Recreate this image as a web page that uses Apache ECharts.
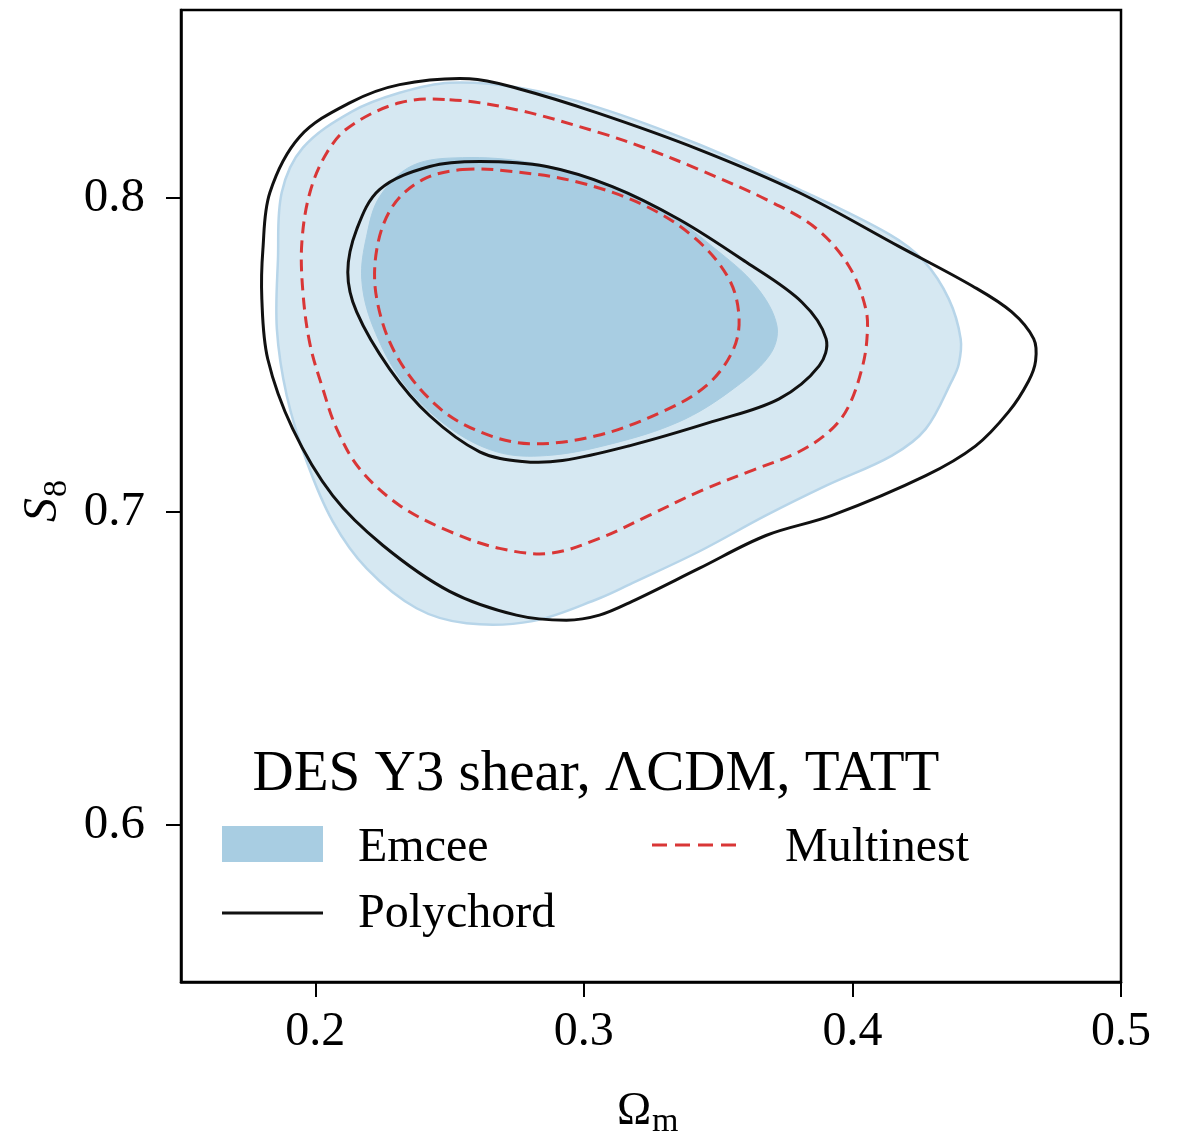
<!DOCTYPE html>
<html><head><meta charset="utf-8">
<script src="https://cdn.jsdelivr.net/npm/echarts@6/dist/echarts.min.js"></script>
<style>html,body{margin:0;padding:0;background:#fff}#c{width:1178px;height:1137px}</style>
</head><body><div id="c"></div>
<script>
// tick labels
const xTicks = [0.2, 0.3, 0.4, 0.5];
const yTicks = [0.6, 0.7, 0.8];
// contour outlines, [Omega_m, S8]
const emceeOuter = [[0.2500,0.8368],[0.2760,0.8352],[0.3058,0.8288],[0.3429,0.8171],[0.3801,0.8028],[0.4136,0.7885],[0.4266,0.7799],[0.4359,0.7678],[0.4403,0.7551],[0.4396,0.7471],[0.4370,0.7417],[0.4273,0.7264],[0.4147,0.7179],[0.3902,0.7083],[0.3678,0.6988],[0.3429,0.6873],[0.3180,0.6772],[0.3058,0.6724],[0.2809,0.6651],[0.2563,0.6644],[0.2377,0.6692],[0.2191,0.6819],[0.2065,0.6969],[0.1968,0.7160],[0.1894,0.7369],[0.1857,0.7582],[0.1861,0.7805],[0.1875,0.8018],[0.1954,0.8161],[0.2136,0.8276],[0.2314,0.8336]];
const emceeInner = [[0.2548,0.8129],[0.2797,0.8114],[0.3046,0.8059],[0.3292,0.7964],[0.3478,0.7846],[0.3641,0.7719],[0.3719,0.7592],[0.3690,0.7497],[0.3541,0.7382],[0.3355,0.7287],[0.3106,0.7217],[0.2861,0.7179],[0.2675,0.7191],[0.2489,0.7274],[0.2325,0.7414],[0.2214,0.7592],[0.2173,0.7741],[0.2191,0.7878],[0.2240,0.8005],[0.2362,0.8104]];
const polychordOuter = [[0.2574,0.8381],[0.2757,0.8349],[0.3050,0.8272],[0.3429,0.8155],[0.3801,0.8018],[0.4173,0.7846],[0.4448,0.7719],[0.4593,0.7637],[0.4675,0.7551],[0.4682,0.7481],[0.4656,0.7417],[0.4582,0.7319],[0.4459,0.7210],[0.4273,0.7115],[0.3924,0.6988],[0.3678,0.6924],[0.3429,0.6819],[0.3180,0.6714],[0.3058,0.6670],[0.2935,0.6654],[0.2749,0.6670],[0.2500,0.6746],[0.2251,0.6893],[0.2065,0.7051],[0.1916,0.7264],[0.1823,0.7487],[0.1801,0.7678],[0.1805,0.7837],[0.1831,0.8018],[0.1942,0.8196],[0.2128,0.8304],[0.2314,0.8362]];
const polychordInner = [[0.2612,0.8117],[0.2861,0.8101],[0.3106,0.8037],[0.3355,0.7932],[0.3604,0.7796],[0.3812,0.7668],[0.3902,0.7551],[0.3876,0.7465],[0.3727,0.7360],[0.3478,0.7287],[0.3169,0.7210],[0.2920,0.7163],[0.2771,0.7160],[0.2612,0.7191],[0.2426,0.7306],[0.2277,0.7455],[0.2154,0.7637],[0.2121,0.7764],[0.2154,0.7900],[0.2240,0.8028],[0.2426,0.8101]];
const multinestOuter = [[0.2500,0.8314],[0.2749,0.8282],[0.3058,0.8209],[0.3243,0.8155],[0.3429,0.8091],[0.3678,0.7996],[0.3864,0.7904],[0.3987,0.7783],[0.4050,0.7646],[0.4054,0.7551],[0.4035,0.7455],[0.3987,0.7338],[0.3924,0.7264],[0.3801,0.7191],[0.3615,0.7128],[0.3429,0.7064],[0.3243,0.6988],[0.3058,0.6915],[0.2872,0.6867],[0.2686,0.6883],[0.2500,0.6937],[0.2314,0.7020],[0.2165,0.7137],[0.2080,0.7264],[0.2028,0.7392],[0.1980,0.7535],[0.1954,0.7700],[0.1950,0.7859],[0.1980,0.8018],[0.2043,0.8145],[0.2128,0.8228],[0.2314,0.8304]];
const multinestInner = [[0.2548,0.8091],[0.2734,0.8085],[0.2983,0.8050],[0.3232,0.7974],[0.3418,0.7869],[0.3541,0.7741],[0.3578,0.7614],[0.3552,0.7509],[0.3455,0.7401],[0.3292,0.7319],[0.3046,0.7242],[0.2797,0.7217],[0.2612,0.7255],[0.2452,0.7338],[0.2303,0.7497],[0.2229,0.7678],[0.2229,0.7837],[0.2288,0.7974],[0.2400,0.8059]];

const FONT = '"Liberation Serif", "DejaVu Serif", serif';
const C_LIGHT = '#d6e8f2', C_DARK = '#a8cde2', C_EDGE = '#b7d5e9', C_RED = '#d93636', C_BLACK = '#111';

function contour(name, pts, style, z) {
  return {
    type: 'custom', name: name, z: z, silent: true, clip: false,
    coordinateSystem: 'cartesian2d',
    data: pts, encode: { x: 0, y: 1 },
    renderItem: function (params, api) {
      if (params.dataIndex !== 0) return null;
      const p = pts.map(function (d) { return api.coord(d); });
      return { type: 'polygon', shape: { points: p, smooth: 0.35 }, style: style };
    }
  };
}

const chart = echarts.init(document.getElementById('c'), null, { renderer: 'canvas' });
chart.setOption({
  animation: false,
  backgroundColor: '#fff',
  grid: { left: 181, right: 57, top: 10, bottom: 155, show: true, borderColor: '#000', borderWidth: 2.5, backgroundColor: 'transparent' },
  xAxis: {
    type: 'value', min: 0.15, max: 0.5,
    axisLine: { show: true, onZero: false, lineStyle: { color: '#000', width: 2.5 } },
    axisTick: { show: true, customValues: xTicks, length: 15, lineStyle: { color: '#000', width: 2 } },
    axisLabel: { customValues: xTicks, formatter: function (v) { return v.toFixed(1); }, margin: 26, fontSize: 48, fontFamily: FONT, color: '#000' },
    splitLine: { show: false }
  },
  yAxis: {
    type: 'value', min: 0.55, max: 0.86,
    axisLine: { show: true, onZero: false, lineStyle: { color: '#000', width: 2.5 } },
    axisTick: { show: true, customValues: yTicks, length: 15, lineStyle: { color: '#000', width: 2 } },
    axisLabel: { customValues: yTicks, formatter: function (v) { return v.toFixed(1); }, margin: 36, fontSize: 49, fontFamily: FONT, color: '#000' },
    splitLine: { show: false }
  },
  series: [
    contour('Emcee 95%', emceeOuter, { fill: C_LIGHT, stroke: C_EDGE, lineWidth: 2.5 }, 1),
    contour('Emcee 68%', emceeInner, { fill: C_DARK, stroke: C_DARK, lineWidth: 1 }, 2),
    contour('Multinest 95%', multinestOuter, { fill: null, stroke: C_RED, lineWidth: 3, lineDash: [12, 7] }, 3),
    contour('Multinest 68%', multinestInner, { fill: null, stroke: C_RED, lineWidth: 3, lineDash: [12, 7] }, 3),
    contour('Polychord 95%', polychordOuter, { fill: null, stroke: C_BLACK, lineWidth: 3 }, 4),
    contour('Polychord 68%', polychordInner, { fill: null, stroke: C_BLACK, lineWidth: 3 }, 4)
  ],
  graphic: [
    { type: 'text', x: 596, y: 775, z: 10, style: { text: 'DES Y3 shear, \u039BCDM, TATT', font: '57px ' + FONT, fill: '#000', align: 'center', verticalAlign: 'middle' } },
    { type: 'rect', z: 10, shape: { x: 222, y: 826, width: 101, height: 36 }, style: { fill: C_DARK } },
    { type: 'text', x: 358, y: 848, z: 10, style: { text: 'Emcee', font: '48px ' + FONT, fill: '#000', align: 'left', verticalAlign: 'middle' } },
    { type: 'line', z: 10, shape: { x1: 652, y1: 845, x2: 739, y2: 845 }, style: { stroke: C_RED, lineWidth: 3, lineDash: [15, 8] } },
    { type: 'text', x: 785, y: 848, z: 10, style: { text: 'Multinest', font: '48px ' + FONT, fill: '#000', align: 'left', verticalAlign: 'middle' } },
    { type: 'line', z: 10, shape: { x1: 222, y1: 913, x2: 323, y2: 913 }, style: { stroke: C_BLACK, lineWidth: 3 } },
    { type: 'text', x: 358, y: 914, z: 10, style: { text: 'Polychord', font: '48px ' + FONT, fill: '#000', align: 'left', verticalAlign: 'middle' } },
    { type: 'group', x: 617, y: 1112, z: 10, children: [
      { type: 'text', x: 0, y: 0, style: { text: '\u03A9', font: '46px ' + FONT, fill: '#000', align: 'left', verticalAlign: 'middle' } },
      { type: 'text', x: 35, y: 10, style: { text: 'm', font: '34px ' + FONT, fill: '#000', align: 'left', verticalAlign: 'middle' } }
    ] },
    { type: 'group', x: 43, y: 522, rotation: Math.PI / 2, z: 10, children: [
      { type: 'text', x: 0, y: 0, style: { text: 'S', font: 'italic 48px ' + FONT, fill: '#000', align: 'left', verticalAlign: 'middle' } },
      { type: 'text', x: 25, y: 14, style: { text: '8', font: '34px ' + FONT, fill: '#000', align: 'left', verticalAlign: 'middle' } }
    ] }
  ]
});
</script></body></html>
